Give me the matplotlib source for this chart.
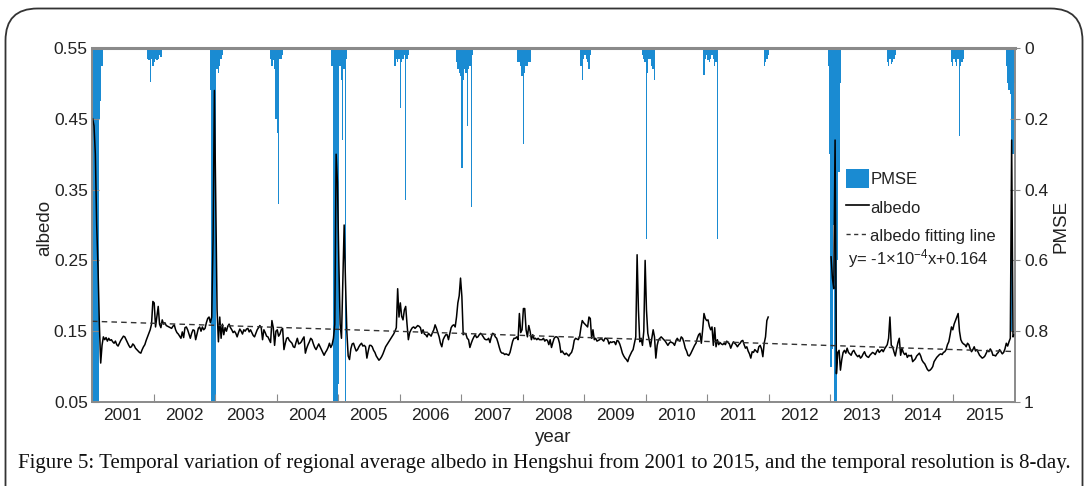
import numpy as np
import matplotlib
matplotlib.use('Agg')
import matplotlib.pyplot as plt
from matplotlib.patches import FancyBboxPatch, Patch
from matplotlib.lines import Line2D

# ---------------- data ----------------
years = list(range(2001, 2016))
steps_per_year = 46  # 8-day composites

albedo_2001 = [0.45, 0.44, 0.40, 0.30, 0.24, 0.16, 0.105, 0.13, 0.142, 0.138,
               0.141, 0.136, 0.14, 0.137, 0.138, 0.135, 0.133, 0.136, 0.131, 0.129,
               0.133, 0.137, 0.14, 0.143, 0.142, 0.138, 0.134, 0.13, 0.127, 0.128,
               0.132, 0.13, 0.126, 0.124, 0.122, 0.12, 0.119, 0.124, 0.128, 0.131,
               0.137, 0.142, 0.147, 0.152, 0.16, 0.192]
albedo_2002 = [0.19, 0.156, 0.17, 0.185, 0.16, 0.155, 0.166, 0.16, 0.162, 0.158,
               0.157, 0.156, 0.155, 0.154, 0.157, 0.159, 0.152, 0.148, 0.146, 0.143,
               0.14, 0.149, 0.141, 0.155, 0.156, 0.152, 0.146, 0.14, 0.147, 0.152,
               0.151, 0.138, 0.146, 0.154, 0.156, 0.15, 0.156, 0.152, 0.154, 0.162,
               0.168, 0.17, 0.162, 0.17, 0.28, 0.49]
albedo_2003 = [0.33, 0.18, 0.135, 0.17, 0.14, 0.16, 0.145, 0.155, 0.15, 0.157,
               0.16, 0.155, 0.152, 0.148, 0.15, 0.147, 0.142, 0.148, 0.153, 0.15,
               0.146, 0.152, 0.15, 0.153, 0.154, 0.149, 0.152, 0.148, 0.144, 0.142,
               0.147, 0.152, 0.155, 0.158, 0.155, 0.138, 0.152, 0.148, 0.143, 0.142,
               0.138, 0.134, 0.165, 0.155, 0.13, 0.15]
albedo_2004 = [0.152, 0.143, 0.146, 0.152, 0.154, 0.124, 0.133, 0.14, 0.141, 0.137,
               0.135, 0.133, 0.128, 0.127, 0.134, 0.14, 0.132, 0.133, 0.135, 0.139,
               0.142, 0.119, 0.126, 0.131, 0.135, 0.14, 0.138, 0.132, 0.127, 0.124,
               0.128, 0.132, 0.128, 0.124, 0.12, 0.116, 0.12, 0.123, 0.127, 0.133,
               0.127, 0.131, 0.14, 0.16, 0.40, 0.36]
albedo_2005 = [0.25, 0.16, 0.14, 0.22, 0.30, 0.22, 0.15, 0.115, 0.11, 0.125,
               0.132, 0.133, 0.127, 0.122, 0.124, 0.128, 0.131, 0.133, 0.129, 0.13,
               0.128, 0.112, 0.122, 0.13, 0.13, 0.128, 0.123, 0.12, 0.115, 0.112,
               0.109, 0.111, 0.114, 0.118, 0.123, 0.128, 0.131, 0.134, 0.137, 0.14,
               0.143, 0.146, 0.15, 0.155, 0.21, 0.17]
albedo_2006 = [0.19, 0.171, 0.166, 0.18, 0.185, 0.16, 0.138, 0.148, 0.152, 0.155,
               0.156, 0.154, 0.156, 0.158, 0.157, 0.155, 0.147, 0.152, 0.146, 0.145,
               0.142, 0.147, 0.145, 0.143, 0.148, 0.152, 0.159, 0.154, 0.148, 0.142,
               0.133, 0.128, 0.138, 0.142, 0.145, 0.145, 0.138, 0.147, 0.155, 0.158,
               0.159, 0.156, 0.17, 0.19, 0.20, 0.225]
albedo_2007 = [0.199, 0.145, 0.147, 0.146, 0.14, 0.138, 0.127, 0.133, 0.138, 0.142,
               0.145, 0.141, 0.142, 0.145, 0.147, 0.145, 0.142, 0.139, 0.138, 0.138,
               0.14, 0.134, 0.142, 0.147, 0.146, 0.142, 0.14, 0.134, 0.127, 0.121,
               0.119, 0.119, 0.117, 0.118, 0.117, 0.116, 0.12, 0.128, 0.136, 0.14,
               0.14, 0.142, 0.138, 0.175, 0.148, 0.152]
albedo_2008 = [0.182, 0.182, 0.152, 0.142, 0.158, 0.15, 0.138, 0.145, 0.139, 0.14,
               0.138, 0.14, 0.138, 0.138, 0.138, 0.14, 0.136, 0.138, 0.137, 0.131,
               0.138, 0.127, 0.134, 0.14, 0.142, 0.142, 0.14, 0.133, 0.12, 0.122,
               0.119, 0.117, 0.119, 0.117, 0.115, 0.118, 0.12, 0.126, 0.137, 0.14,
               0.139, 0.138, 0.142, 0.155, 0.165, 0.162]
albedo_2009 = [0.16, 0.158, 0.156, 0.17, 0.168, 0.14, 0.152, 0.138, 0.14, 0.136,
               0.137, 0.138, 0.14, 0.138, 0.136, 0.14, 0.14, 0.138, 0.132, 0.135,
               0.134, 0.135, 0.135, 0.131, 0.137, 0.136, 0.132, 0.126, 0.119, 0.115,
               0.112, 0.11, 0.107, 0.113, 0.117, 0.121, 0.124, 0.133, 0.142, 0.258,
               0.18, 0.135, 0.14, 0.13, 0.15, 0.25]
albedo_2010 = [0.18, 0.147, 0.138, 0.128, 0.14, 0.152, 0.142, 0.112, 0.13, 0.138,
               0.14, 0.142, 0.14, 0.138, 0.136, 0.133, 0.13, 0.133, 0.135, 0.134,
               0.133, 0.13, 0.136, 0.14, 0.137, 0.136, 0.142, 0.14, 0.134, 0.126,
               0.122, 0.116, 0.115, 0.118, 0.122, 0.126, 0.13, 0.133, 0.14, 0.145,
               0.147, 0.133, 0.152, 0.175, 0.168, 0.165]
albedo_2011 = [0.166, 0.157, 0.152, 0.156, 0.13, 0.155, 0.128, 0.138, 0.131, 0.134,
               0.132, 0.131, 0.133, 0.131, 0.136, 0.134, 0.132, 0.126, 0.131, 0.135,
               0.133, 0.131, 0.128, 0.131, 0.133, 0.136, 0.137, 0.131, 0.126, 0.128,
               0.122, 0.118, 0.112, 0.121, 0.12, 0.124, 0.122, 0.12, 0.128, 0.13,
               0.125, 0.114, 0.133, 0.142, 0.165, 0.17]
albedo_2012 = [np.nan] * 46  # no albedo data in 2012
albedo_2013 = [0.255, 0.225, 0.21, 0.42, 0.09, 0.12, 0.123, 0.095, 0.11, 0.12,
               0.123, 0.119, 0.126, 0.12, 0.118, 0.116, 0.121, 0.123, 0.119, 0.116,
               0.114, 0.116, 0.112, 0.114, 0.118, 0.121, 0.116, 0.114, 0.113, 0.116,
               0.118, 0.12, 0.119, 0.117, 0.121, 0.124, 0.12, 0.122, 0.124, 0.121,
               0.125, 0.128, 0.131, 0.14, 0.17, 0.13]
albedo_2014 = [0.128, 0.121, 0.115, 0.125, 0.134, 0.14, 0.116, 0.126, 0.12, 0.117,
               0.119, 0.113, 0.116, 0.115, 0.116, 0.107, 0.109, 0.111, 0.115, 0.117,
               0.119, 0.115, 0.109, 0.106, 0.104, 0.1, 0.096, 0.094, 0.095, 0.097,
               0.1, 0.107, 0.11, 0.113, 0.115, 0.117, 0.118, 0.117, 0.12, 0.121,
               0.124, 0.131, 0.135, 0.145, 0.156, 0.152]
albedo_2015 = [0.16, 0.165, 0.17, 0.175, 0.15, 0.138, 0.134, 0.132, 0.131, 0.128,
               0.133, 0.131, 0.125, 0.121, 0.124, 0.128, 0.122, 0.124, 0.12, 0.116,
               0.114, 0.112, 0.113, 0.115, 0.119, 0.123, 0.121, 0.125, 0.122, 0.116,
               0.116, 0.115, 0.118, 0.12, 0.124, 0.121, 0.118, 0.12, 0.125, 0.133,
               0.129, 0.135, 0.14, 0.42, 0.142, 0.145]

# PMSE: 8-day step index (from Jan 2001) and value (zero elsewhere)
pmse_idx = [0, 1, 2, 3, 4, 5, 6, 7,
            41, 42, 43, 44, 45, 46, 47, 48, 49, 50, 51,
            88, 89, 90, 91, 92, 93, 94, 95, 96, 97,
            133, 134, 135, 136, 137, 138, 139, 140, 141, 142,
            179, 180, 181, 182, 183, 184, 185, 186, 187, 188, 189, 190,
            226, 227, 228, 229, 230, 231, 232, 233, 234, 235, 236,
            272, 273, 274, 275, 276, 277, 278, 279, 280, 281, 282, 283, 284,
            318, 319, 320, 321, 322, 323, 324, 325, 326, 327,
            365, 366, 367, 368, 369, 370, 371, 372,
            411, 412, 413, 414, 415, 416, 417, 418, 419, 420,
            457, 458, 459, 460, 461, 462, 463, 464, 465, 466, 467,
            502, 503, 504, 505,
            550, 551, 552, 553, 554, 555, 556, 557, 558, 559,
            594, 595, 596, 597, 598, 599, 600,
            642, 643, 644, 645, 646, 647, 648, 649, 650, 651,
            683, 684, 685, 686, 687, 688, 689]
pmse_val = [1.0, 1.0, 1.0, 1.0, 1.0, 0.2, 0.15, 0.05,
            0.03, 0.035, 0.095, 0.03, 0.05, 0.04, 0.03, 0.035, 0.03, 0.02, 0.025,
            0.12, 1.0, 1.0, 1.0, 1.0, 0.06, 0.07, 0.05, 0.03, 0.02,
            0.03, 0.05, 0.035, 0.06, 0.2, 0.24, 0.44, 0.03, 0.03, 0.02,
            0.05, 1.0, 1.0, 1.0, 1.0, 0.95, 0.05, 0.09, 0.26, 0.06, 1.0, 0.03,
            0.05, 0.03, 0.04, 0.03, 0.17, 0.04, 0.03, 0.02, 0.43, 0.03, 0.02,
            0.04, 0.06, 0.07, 0.08, 0.34, 0.09, 0.06, 0.07, 0.22, 0.06, 0.05, 0.45, 0.02,
            0.04, 0.04, 0.05, 0.08, 0.27, 0.07, 0.05, 0.05, 0.04, 0.04,
            0.05, 0.09, 0.03, 0.02, 0.03, 0.04, 0.06, 0.02,
            0.02, 0.03, 0.04, 0.54, 0.07, 0.03, 0.03, 0.05, 0.06, 0.09,
            0.076, 0.03, 0.02, 0.035, 0.04, 0.03, 0.02, 0.03, 0.05, 0.04, 0.54,
            0.05, 0.04, 0.03, 0.02,
            0.05, 0.3, 0.9, 0.85, 0.5, 1.0, 1.0, 0.6, 0.35, 0.1,
            0.04, 0.05, 0.03, 0.045, 0.04, 0.03, 0.02,
            0.04, 0.05, 0.03, 0.04, 0.05, 0.03, 0.25, 0.05, 0.04, 0.03,
            0.05, 0.1, 0.12, 0.13, 0.8, 0.3, 0.1]

fit_intercept = 0.164     # albedo fitting line (per 8-day step)
fit_slope = -6.2e-5
fit_text = r'y= -1×10$\mathregular{^{-4}}$x+0.164'

albedo_ticks = [0.05, 0.15, 0.25, 0.35, 0.45, 0.55]
pmse_ticks = [0, 0.2, 0.4, 0.6, 0.8, 1]
pmse_ticklabels = ['0', '0.2', '0.4', '0.6', '0.8', '1']
caption = ("Figure 5: Temporal variation of regional average albedo in Hengshui "
           "from 2001 to 2015, and the temporal resolution is 8-day.")

# ---------------- figure ----------------
plt.rcParams['font.family'] = ['Liberation Sans', 'DejaVu Sans']
plt.rcParams['mathtext.fontset'] = 'custom'
plt.rcParams['mathtext.rm'] = 'Liberation Sans'

W, H = 1088, 486
fig = plt.figure(figsize=(W / 100, H / 100), dpi=100)

bg = fig.add_axes([0, 0, 1, 1])
bg.set_xlim(0, W)
bg.set_ylim(H, 0)
bg.axis('off')
bg.add_patch(FancyBboxPatch((5.5, 8.5), 1077, 560,
                            boxstyle='round,pad=0,rounding_size=32',
                            fc='none', ec='#333333', lw=1.3))

L, R, T, B = 92, 1015, 48, 402
ax = fig.add_axes([L / W, 1 - B / H, (R - L) / W, (B - T) / H])
ax2 = ax.twinx()
ax.set_zorder(3)
ax2.set_zorder(2)
ax.patch.set_visible(False)

albedo = np.concatenate([albedo_2001, albedo_2002, albedo_2003, albedo_2004,
                         albedo_2005, albedo_2006, albedo_2007, albedo_2008,
                         albedo_2009, albedo_2010, albedo_2011, albedo_2012,
                         albedo_2013, albedo_2014, albedo_2015])
n = len(albedo)
x = np.arange(n) + 0.5

blue = '#1a8bd2'
ax2.bar(np.array(pmse_idx) + 0.5, pmse_val, width=1.0, color=blue, lw=0)
ax2.set_ylim(1, 0)

ax.plot(x, albedo, color='k', lw=1.1)
xfit = np.array([0, n])
ax.plot(xfit, fit_intercept + fit_slope * xfit, color='#333333', lw=1.0,
        ls=(0, (4, 3)))

ax.set_xlim(0, n)
ax.set_ylim(0.05, 0.55)

spine_c = '#8a8a8a'
for a in (ax, ax2):
    for s in a.spines.values():
        s.set_color(spine_c)
        s.set_linewidth(1.2)
ax.spines['top'].set_linewidth(2.2)

tick_c = '#222222'
ax.set_yticks(albedo_ticks)
ax.set_yticklabels([f'{v:.2f}' for v in albedo_ticks])
ax.tick_params(axis='y', direction='in', length=5, color=spine_c,
               labelsize=12.5, labelcolor=tick_c, pad=3)
ax2.set_yticks(pmse_ticks)
ax2.set_yticklabels(pmse_ticklabels)
ax2.tick_params(axis='y', direction='inout', length=7, color=spine_c,
                labelsize=12.5, labelcolor=tick_c, pad=3)

bounds = np.arange(steps_per_year, n, steps_per_year)
ax.set_xticks(bounds)
ax.set_xticklabels([''] * len(bounds))
ax.set_xticks(np.arange(len(years)) * steps_per_year + steps_per_year / 2, minor=True)
ax.set_xticklabels([str(y) for y in years], minor=True)
ax.tick_params(axis='x', which='major', direction='in', length=6, color=spine_c)
ax.tick_params(axis='x', which='minor', length=0, labelsize=12.5,
               labelcolor=tick_c, pad=4)
ax2.tick_params(axis='x', length=0)

fig.text(45 / W, 1 - 228 / H, 'albedo', rotation=90, ha='center', va='center',
         fontsize=13.5, color=tick_c)
fig.text(1061 / W, 1 - 226 / H, 'PMSE', rotation=90, ha='center', va='center',
         fontsize=13.5, color=tick_c)
fig.text(553 / W, 1 - 437 / H, 'year', ha='center', va='center',
         fontsize=13.5, color=tick_c)

handles = [Patch(facecolor=blue, edgecolor='none'),
           Line2D([], [], color='k', lw=1.2),
           Line2D([], [], color='#333333', lw=1.0, ls=(0, (3, 2.5)))]
labels = ['PMSE', 'albedo', 'albedo fitting line']
leg = ax.legend(handles, labels, loc='upper left',
                bbox_to_anchor=((846 - L) / (R - L), 1 - (169 - T) / (B - T)),
                frameon=False, fontsize=12, handlelength=1.35, handleheight=1.35,
                handletextpad=0.1, labelspacing=0.6, borderpad=0, borderaxespad=0)
for t in leg.get_texts():
    t.set_color(tick_c)
fig.text(848 / W, 1 - 259 / H, fit_text, ha='left', va='center', fontsize=12,
         color=tick_c)

fig.text(18 / W, 1 - 463 / H, caption, ha='left', va='center',
         family='Liberation Serif', fontsize=15.0, color='#111111')

fig.savefig('out.png', dpi=100)
